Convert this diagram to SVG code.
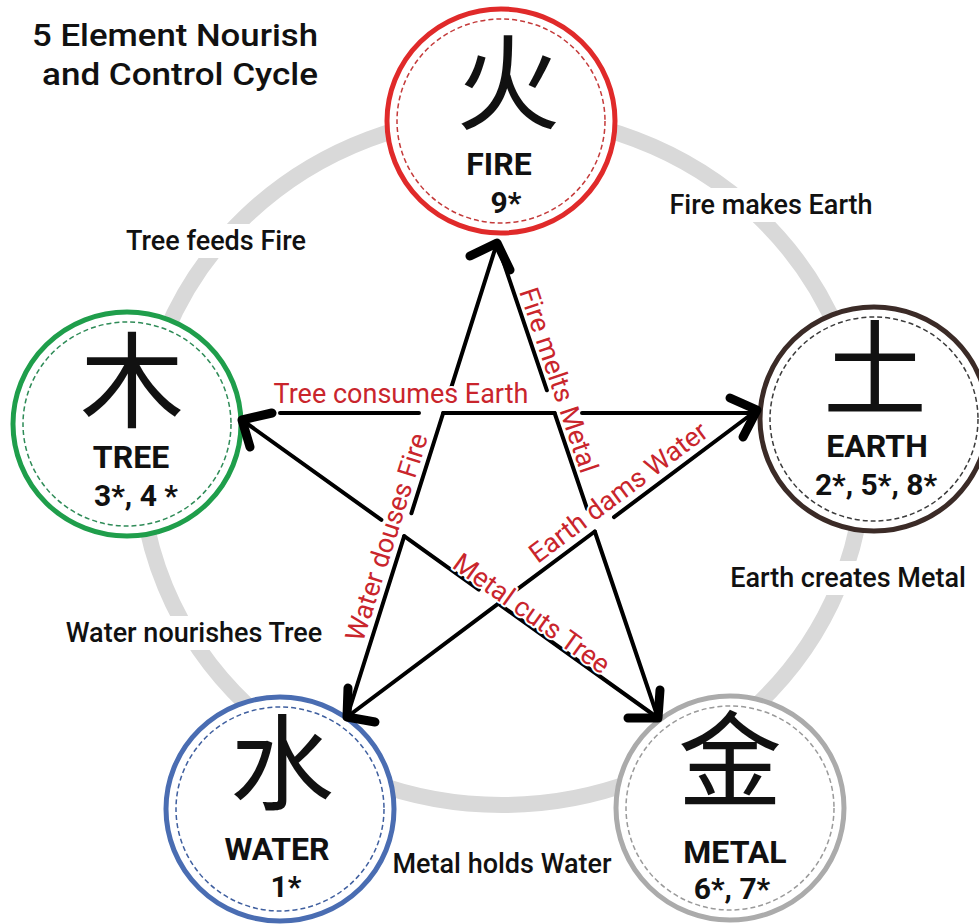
<svg xmlns="http://www.w3.org/2000/svg" width="979" height="924" viewBox="0 0 979 924">
<style>
.ring{fill:none;stroke:#d9d9d9;stroke-width:16}
.outer{fill:#fff;stroke-width:5}
.inner{fill:none;stroke-width:1.5;stroke-dasharray:5 3}
.han{font-family:"Noto Sans CJK SC","Noto Sans CJK JP",sans-serif;font-size:104px;text-anchor:middle;fill:#111}
.name{font-family:Roboto,"Liberation Sans",sans-serif;font-weight:700;font-size:32px;text-anchor:middle;fill:#111}
.num{font-family:Roboto,"Liberation Sans",sans-serif;font-weight:700;font-size:30px;text-anchor:middle;fill:#111}
.lbl{font-family:Roboto,"Liberation Sans",sans-serif;font-weight:500;font-size:27px;text-anchor:middle;fill:#111}
.ctl{font-family:Roboto,"Liberation Sans",sans-serif;font-size:27px;text-anchor:middle;fill:#c9252c;stroke:#fff;stroke-width:4;paint-order:stroke;stroke-linejoin:round}
.title{font-family:Roboto,"Liberation Sans",sans-serif;font-weight:500;font-size:32px;fill:#111}
.ln{fill:none;stroke:#000;stroke-width:4;stroke-linecap:round}
.head{fill:none;stroke:#000;stroke-width:9;stroke-linecap:round;stroke-linejoin:round}
.bg{fill:#fff}
</style>
<rect width="979" height="924" fill="#fff"/>
<ellipse class="ring" cx="502" cy="460" rx="362" ry="345"/>

<g id="title">
<text class="title" x="32" y="46" textLength="286" lengthAdjust="spacingAndGlyphs">5 Element Nourish</text>
<text class="title" x="42" y="85" textLength="276" lengthAdjust="spacingAndGlyphs">and Control Cycle</text>
</g>

<g id="nourish-labels">
<rect class="bg" x="116" y="224" width="200" height="34"/>
<text class="lbl" x="216" y="250">Tree feeds Fire</text>
<rect class="bg" x="658" y="188" width="226" height="34"/>
<text class="lbl" x="771" y="214">Fire makes Earth</text>
<rect class="bg" x="718" y="561" width="260" height="34"/>
<text class="lbl" x="848" y="587">Earth creates Metal</text>
<rect class="bg" x="54" y="616" width="280" height="34"/>
<text class="lbl" x="194" y="642">Water nourishes Tree</text>
<rect class="bg" x="382" y="847" width="240" height="34"/>
<text class="lbl" x="502" y="873">Metal holds Water</text>
</g>

<g id="node-fire">
<ellipse class="outer" cx="501" cy="121" rx="114" ry="112" stroke="#e02a2a"/>
<ellipse class="inner" cx="501" cy="121" rx="104" ry="102" stroke="#c43a3a"/>
<text class="han" x="508" y="122">火</text>
<text class="name" x="499" y="175">FIRE</text>
<text class="num" x="506" y="213">9*</text>
</g>

<g id="node-tree">
<ellipse class="outer" cx="127" cy="424" rx="114" ry="112" stroke="#1f9e4b"/>
<ellipse class="inner" cx="127" cy="424" rx="104" ry="102" stroke="#2e8b57"/>
<text class="han" x="132" y="420">木</text>
<text class="name" x="131" y="468">TREE</text>
<text class="num" x="136" y="506">3*, 4 *</text>
</g>

<g id="node-earth">
<ellipse class="outer" cx="874" cy="419" rx="114" ry="112" stroke="#3b2b27"/>
<ellipse class="inner" cx="874" cy="419" rx="104" ry="102" stroke="#3b3b3b"/>
<text class="han" x="875" y="408">土</text>
<text class="name" x="877" y="457">EARTH</text>
<text class="num" x="876" y="495">2*, 5*, 8*</text>
</g>

<g id="node-water">
<ellipse class="outer" cx="280" cy="809" rx="114" ry="112" stroke="#4a6db2"/>
<ellipse class="inner" cx="280" cy="809" rx="104" ry="102" stroke="#3f5f9f"/>
<text class="han" x="282" y="802">水</text>
<text class="name" x="277" y="860">WATER</text>
<text class="num" x="286" y="897">1*</text>
</g>

<g id="node-metal">
<ellipse class="outer" cx="730" cy="808" rx="114" ry="112" stroke="#ababab"/>
<ellipse class="inner" cx="730" cy="808" rx="104" ry="102" stroke="#9a9a9a"/>
<text class="han" x="730" y="799">金</text>
<text class="name" x="735" y="863">METAL</text>
<text class="num" x="732" y="899">6*, 7*</text>
</g>

<g id="connectors">
<path class="ln" d="M497,243 L450.4,390.1 M443.2,413 L411.4,513.3 M404.2,536.2 L347,717"/>
<path class="ln" d="M497,243 L546.9,390.3 M554.6,413 L587.1,508.8 M594.8,531.5 L658,718"/>
<path class="ln" d="M242,420 L381.4,519.9 M404.2,536.2 L478.8,589.6 M498.3,603.6 L658,718"/>
<path class="ln" d="M280,413 L419,413 M443.2,413 L554.6,413 M582,413 L752,413"/>
<path class="ln" d="M757,410 L614,517.1 M594.8,531.5 L517.5,589.2 M498.3,603.6 L347,717"/>
<path class="head" d="M470,256 L497,243 L510,270"/>
<path class="head" d="M272,413 L242,420 L250,447"/>
<path class="head" d="M730,398 L757,410 L743,437"/>
<path class="head" d="M348,688 L347,717 L375,722"/>
<path class="head" d="M628,718 L658,718 L660,690"/>
</g>

<g id="control-labels">
<text class="ctl" x="401" y="403">Tree consumes Earth</text>
<text class="ctl" transform="translate(550,383) rotate(71.3)">Fire melts Metal</text>
<text class="ctl" transform="translate(395.5,540) rotate(-72.4)">Water douses Fire</text>
<text class="ctl" transform="translate(623.8,499.6) rotate(-36.8)">Earth dams Water</text>
<text class="ctl" transform="translate(526.3,621) rotate(35.6)">Metal cuts Tree</text>
</g>
</svg>
